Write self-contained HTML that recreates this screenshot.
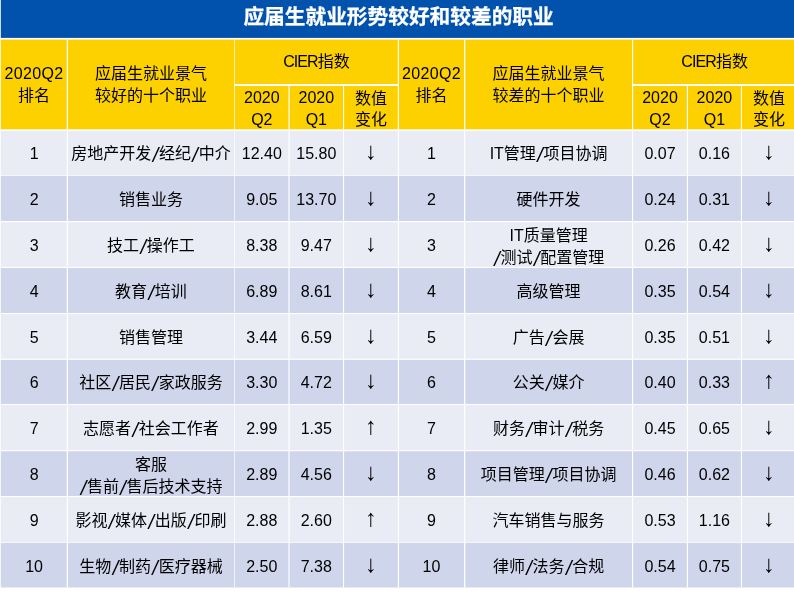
<!DOCTYPE html>
<html lang="zh-CN"><head><meta charset="utf-8"><title>应届生就业形势较好和较差的职业</title>
<style>
html,body{margin:0;padding:0;background:#fff}
body{width:794px;height:599px;position:relative;overflow:hidden;font-family:"Liberation Sans","Noto Sans CJK SC",sans-serif;color:#000}
svg{position:absolute;left:0;top:0}
.t{position:absolute;left:1.6px;top:2px;width:794px;line-height:30px;text-align:center;color:#fff;font-weight:bold;font-size:20.7px;-webkit-text-stroke:0.25px #fff;white-space:nowrap}
.c{position:absolute;text-align:center;font-size:16px;line-height:22px;white-space:nowrap}
.c i{font-style:italic;font-size:20px;line-height:0;position:relative;top:3px;padding:0 0.75px 0 1.35px}
.a{font-size:24px}
.c b{font-weight:normal;letter-spacing:-0.9px}
</style></head><body>
<svg width="794" height="599" viewBox="0 0 794 599">
<rect x="0.80" y="0.00" width="793.20" height="37.90" fill="#0052AD"/>
<rect x="0.80" y="39.60" width="793.20" height="90.25" fill="#FDD000"/>
<rect x="0.80" y="130.50" width="793.20" height="44.95" fill="#E9EBF5"/>
<rect x="0.80" y="175.45" width="793.20" height="46.15" fill="#CFD5EA"/>
<rect x="0.80" y="221.60" width="793.20" height="45.80" fill="#E9EBF5"/>
<rect x="0.80" y="267.40" width="793.20" height="46.15" fill="#CFD5EA"/>
<rect x="0.80" y="313.55" width="793.20" height="45.65" fill="#E9EBF5"/>
<rect x="0.80" y="359.20" width="793.20" height="45.30" fill="#CFD5EA"/>
<rect x="0.80" y="404.50" width="793.20" height="46.20" fill="#E9EBF5"/>
<rect x="0.80" y="450.70" width="793.20" height="45.85" fill="#CFD5EA"/>
<rect x="0.80" y="496.55" width="793.20" height="45.80" fill="#E9EBF5"/>
<rect x="0.80" y="542.35" width="793.20" height="45.15" fill="#CFD5EA"/>
<rect x="0.00" y="129.35" width="794.00" height="1.65" fill="#fff"/>
<rect x="0.00" y="175.15" width="794.00" height="0.70" fill="#fff"/>
<rect x="0.00" y="221.00" width="794.00" height="1.20" fill="#fff"/>
<rect x="0.00" y="266.85" width="794.00" height="1.15" fill="#fff"/>
<rect x="0.00" y="313.00" width="794.00" height="1.10" fill="#fff"/>
<rect x="0.00" y="358.70" width="794.00" height="1.15" fill="#fff"/>
<rect x="0.00" y="404.00" width="794.00" height="1.05" fill="#fff"/>
<rect x="0.00" y="450.15" width="794.00" height="1.10" fill="#fff"/>
<rect x="0.00" y="496.00" width="794.00" height="1.10" fill="#fff"/>
<rect x="0.00" y="541.95" width="794.00" height="0.75" fill="#fff"/>
<rect x="234.60" y="84.00" width="164.00" height="1.95" fill="#fff"/>
<rect x="632.40" y="84.00" width="161.60" height="1.95" fill="#fff"/>
<rect x="66.75" y="39.60" width="1.25" height="547.90" fill="#fff"/>
<rect x="234.20" y="39.60" width="0.70" height="547.90" fill="#fff"/>
<rect x="288.45" y="84.00" width="1.20" height="503.50" fill="#fff"/>
<rect x="343.00" y="84.00" width="1.10" height="503.50" fill="#fff"/>
<rect x="397.80" y="39.60" width="1.20" height="547.90" fill="#fff"/>
<rect x="464.00" y="39.60" width="1.30" height="547.90" fill="#fff"/>
<rect x="632.00" y="39.60" width="1.15" height="547.90" fill="#fff"/>
<rect x="686.85" y="84.00" width="1.15" height="503.50" fill="#fff"/>
<rect x="740.90" y="84.00" width="1.10" height="503.50" fill="#fff"/>
</svg>
<div class="t">应届生就业形势较好和较差的职业</div>
<div class="c " style="left:0.80px;top:63px;width:66.58px"><span style="letter-spacing:.35px">2020Q2</span></div>
<div class="c " style="left:0.80px;top:85px;width:66.58px">排名</div>
<div class="c " style="left:67.38px;top:63px;width:167.18px">应届生就业景气</div>
<div class="c " style="left:67.38px;top:85px;width:167.18px">较好的十个职业</div>
<div class="c " style="left:234.55px;top:51px;width:163.85px"><b>CIER</b>指数</div>
<div class="c " style="left:234.55px;top:87px;width:54.50px">2020</div>
<div class="c " style="left:234.55px;top:109px;width:54.50px">Q2</div>
<div class="c " style="left:289.05px;top:87px;width:54.50px">2020</div>
<div class="c " style="left:289.05px;top:109px;width:54.50px">Q1</div>
<div class="c " style="left:343.55px;top:88px;width:54.85px">数值</div>
<div class="c " style="left:343.55px;top:109px;width:54.85px">变化</div>
<div class="c " style="left:398.40px;top:63px;width:66.25px"><span style="letter-spacing:.35px">2020Q2</span></div>
<div class="c " style="left:398.40px;top:85px;width:66.25px">排名</div>
<div class="c " style="left:464.65px;top:63px;width:167.93px">应届生就业景气</div>
<div class="c " style="left:464.65px;top:85px;width:167.93px">较差的十个职业</div>
<div class="c " style="left:632.58px;top:51px;width:164.22px"><b>CIER</b>指数</div>
<div class="c " style="left:632.58px;top:87px;width:54.85px">2020</div>
<div class="c " style="left:632.58px;top:109px;width:54.85px">Q2</div>
<div class="c " style="left:687.42px;top:87px;width:54.03px">2020</div>
<div class="c " style="left:687.42px;top:109px;width:54.03px">Q1</div>
<div class="c " style="left:741.45px;top:88px;width:55.35px">数值</div>
<div class="c " style="left:741.45px;top:109px;width:55.35px">变化</div>
<div class="c " style="left:0.80px;top:143px;width:66.58px">1</div>
<div class="c " style="left:67.38px;top:143px;width:167.18px">房地产开发<i>/</i>经纪<i>/</i>中介</div>
<div class="c " style="left:234.55px;top:143px;width:54.50px">12.40</div>
<div class="c " style="left:289.05px;top:143px;width:54.50px">15.80</div>
<div class="c a" style="left:343.55px;top:140px;width:54.85px">↓</div>
<div class="c " style="left:398.40px;top:143px;width:66.25px">1</div>
<div class="c " style="left:464.65px;top:143px;width:167.93px">IT管理<i>/</i>项目协调</div>
<div class="c " style="left:632.58px;top:143px;width:54.85px">0.07</div>
<div class="c " style="left:687.42px;top:143px;width:54.03px">0.16</div>
<div class="c a" style="left:741.45px;top:140px;width:55.35px">↓</div>
<div class="c " style="left:0.80px;top:189px;width:66.58px">2</div>
<div class="c " style="left:67.38px;top:189px;width:167.18px">销售业务</div>
<div class="c " style="left:234.55px;top:189px;width:54.50px">9.05</div>
<div class="c " style="left:289.05px;top:189px;width:54.50px">13.70</div>
<div class="c a" style="left:343.55px;top:186px;width:54.85px">↓</div>
<div class="c " style="left:398.40px;top:189px;width:66.25px">2</div>
<div class="c " style="left:464.65px;top:189px;width:167.93px">硬件开发</div>
<div class="c " style="left:632.58px;top:189px;width:54.85px">0.24</div>
<div class="c " style="left:687.42px;top:189px;width:54.03px">0.31</div>
<div class="c a" style="left:741.45px;top:186px;width:55.35px">↓</div>
<div class="c " style="left:0.80px;top:235px;width:66.58px">3</div>
<div class="c " style="left:67.38px;top:235px;width:167.18px">技工<i>/</i>操作工</div>
<div class="c " style="left:234.55px;top:235px;width:54.50px">8.38</div>
<div class="c " style="left:289.05px;top:235px;width:54.50px">9.47</div>
<div class="c a" style="left:343.55px;top:232px;width:54.85px">↓</div>
<div class="c " style="left:398.40px;top:235px;width:66.25px">3</div>
<div class="c " style="left:464.65px;top:225px;width:167.93px">IT质量管理</div>
<div class="c " style="left:464.65px;top:247px;width:167.93px"><i>/</i>测试<i>/</i>配置管理</div>
<div class="c " style="left:632.58px;top:235px;width:54.85px">0.26</div>
<div class="c " style="left:687.42px;top:235px;width:54.03px">0.42</div>
<div class="c a" style="left:741.45px;top:232px;width:55.35px">↓</div>
<div class="c " style="left:0.80px;top:281px;width:66.58px">4</div>
<div class="c " style="left:67.38px;top:281px;width:167.18px">教育<i>/</i>培训</div>
<div class="c " style="left:234.55px;top:281px;width:54.50px">6.89</div>
<div class="c " style="left:289.05px;top:281px;width:54.50px">8.61</div>
<div class="c a" style="left:343.55px;top:278px;width:54.85px">↓</div>
<div class="c " style="left:398.40px;top:281px;width:66.25px">4</div>
<div class="c " style="left:464.65px;top:281px;width:167.93px">高级管理</div>
<div class="c " style="left:632.58px;top:281px;width:54.85px">0.35</div>
<div class="c " style="left:687.42px;top:281px;width:54.03px">0.54</div>
<div class="c a" style="left:741.45px;top:278px;width:55.35px">↓</div>
<div class="c " style="left:0.80px;top:327px;width:66.58px">5</div>
<div class="c " style="left:67.38px;top:327px;width:167.18px">销售管理</div>
<div class="c " style="left:234.55px;top:327px;width:54.50px">3.44</div>
<div class="c " style="left:289.05px;top:327px;width:54.50px">6.59</div>
<div class="c a" style="left:343.55px;top:324px;width:54.85px">↓</div>
<div class="c " style="left:398.40px;top:327px;width:66.25px">5</div>
<div class="c " style="left:464.65px;top:327px;width:167.93px">广告<i>/</i>会展</div>
<div class="c " style="left:632.58px;top:327px;width:54.85px">0.35</div>
<div class="c " style="left:687.42px;top:327px;width:54.03px">0.51</div>
<div class="c a" style="left:741.45px;top:324px;width:55.35px">↓</div>
<div class="c " style="left:0.80px;top:372px;width:66.58px">6</div>
<div class="c " style="left:67.38px;top:372px;width:167.18px">社区<i>/</i>居民<i>/</i>家政服务</div>
<div class="c " style="left:234.55px;top:372px;width:54.50px">3.30</div>
<div class="c " style="left:289.05px;top:372px;width:54.50px">4.72</div>
<div class="c a" style="left:343.55px;top:369px;width:54.85px">↓</div>
<div class="c " style="left:398.40px;top:372px;width:66.25px">6</div>
<div class="c " style="left:464.65px;top:372px;width:167.93px">公关<i>/</i>媒介</div>
<div class="c " style="left:632.58px;top:372px;width:54.85px">0.40</div>
<div class="c " style="left:687.42px;top:372px;width:54.03px">0.33</div>
<div class="c a" style="left:741.45px;top:369px;width:55.35px">↑</div>
<div class="c " style="left:0.80px;top:418px;width:66.58px">7</div>
<div class="c " style="left:67.38px;top:418px;width:167.18px">志愿者<i>/</i>社会工作者</div>
<div class="c " style="left:234.55px;top:418px;width:54.50px">2.99</div>
<div class="c " style="left:289.05px;top:418px;width:54.50px">1.35</div>
<div class="c a" style="left:343.55px;top:415px;width:54.85px">↑</div>
<div class="c " style="left:398.40px;top:418px;width:66.25px">7</div>
<div class="c " style="left:464.65px;top:418px;width:167.93px">财务<i>/</i>审计<i>/</i>税务</div>
<div class="c " style="left:632.58px;top:418px;width:54.85px">0.45</div>
<div class="c " style="left:687.42px;top:418px;width:54.03px">0.65</div>
<div class="c a" style="left:741.45px;top:415px;width:55.35px">↓</div>
<div class="c " style="left:0.80px;top:464px;width:66.58px">8</div>
<div class="c " style="left:67.38px;top:454px;width:167.18px">客服</div>
<div class="c " style="left:67.38px;top:476px;width:167.18px"><i>/</i>售前<i>/</i>售后技术支持</div>
<div class="c " style="left:234.55px;top:464px;width:54.50px">2.89</div>
<div class="c " style="left:289.05px;top:464px;width:54.50px">4.56</div>
<div class="c a" style="left:343.55px;top:461px;width:54.85px">↓</div>
<div class="c " style="left:398.40px;top:464px;width:66.25px">8</div>
<div class="c " style="left:464.65px;top:464px;width:167.93px">项目管理<i>/</i>项目协调</div>
<div class="c " style="left:632.58px;top:464px;width:54.85px">0.46</div>
<div class="c " style="left:687.42px;top:464px;width:54.03px">0.62</div>
<div class="c a" style="left:741.45px;top:461px;width:55.35px">↓</div>
<div class="c " style="left:0.80px;top:510px;width:66.58px">9</div>
<div class="c " style="left:67.38px;top:510px;width:167.18px">影视<i>/</i>媒体<i>/</i>出版<i>/</i>印刷</div>
<div class="c " style="left:234.55px;top:510px;width:54.50px">2.88</div>
<div class="c " style="left:289.05px;top:510px;width:54.50px">2.60</div>
<div class="c a" style="left:343.55px;top:507px;width:54.85px">↑</div>
<div class="c " style="left:398.40px;top:510px;width:66.25px">9</div>
<div class="c " style="left:464.65px;top:510px;width:167.93px">汽车销售与服务</div>
<div class="c " style="left:632.58px;top:510px;width:54.85px">0.53</div>
<div class="c " style="left:687.42px;top:510px;width:54.03px">1.16</div>
<div class="c a" style="left:741.45px;top:507px;width:55.35px">↓</div>
<div class="c " style="left:0.80px;top:556px;width:66.58px">10</div>
<div class="c " style="left:67.38px;top:556px;width:167.18px">生物<i>/</i>制药<i>/</i>医疗器械</div>
<div class="c " style="left:234.55px;top:556px;width:54.50px">2.50</div>
<div class="c " style="left:289.05px;top:556px;width:54.50px">7.38</div>
<div class="c a" style="left:343.55px;top:553px;width:54.85px">↓</div>
<div class="c " style="left:398.40px;top:556px;width:66.25px">10</div>
<div class="c " style="left:464.65px;top:556px;width:167.93px">律师<i>/</i>法务<i>/</i>合规</div>
<div class="c " style="left:632.58px;top:556px;width:54.85px">0.54</div>
<div class="c " style="left:687.42px;top:556px;width:54.03px">0.75</div>
<div class="c a" style="left:741.45px;top:553px;width:55.35px">↓</div>
</body></html>
